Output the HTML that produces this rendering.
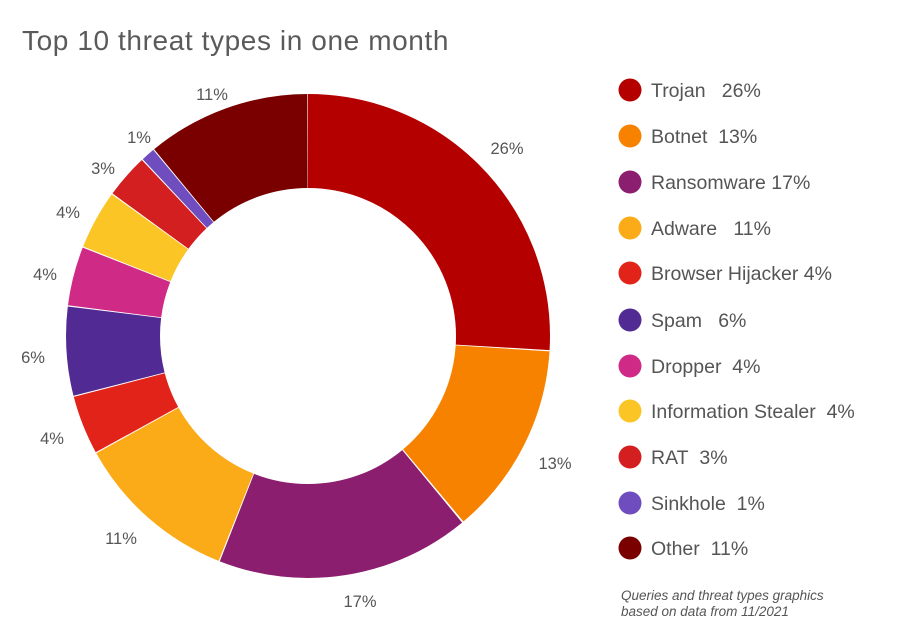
<!DOCTYPE html>
<html><head><meta charset="utf-8"><style>
body{margin:0;background:#fff;width:900px;height:631px;overflow:hidden;font-family:"Liberation Sans",sans-serif;}
</style></head><body>
<svg width="900" height="631" xmlns="http://www.w3.org/2000/svg" font-family="Liberation Sans, sans-serif">
<text x="22" y="50" font-size="28" fill="#5a5a5a" letter-spacing="0.6">Top 10 threat types in one month</text>
<g transform="rotate(-90 308 336)" fill="none" stroke-width="94">
<circle cx="308" cy="336" r="195" stroke="#B50000" stroke-dasharray="317.6 2000" stroke-dashoffset="0"/>
<circle cx="308" cy="336" r="195" stroke="#F78200" stroke-dasharray="157.8 2000" stroke-dashoffset="-318.6"/>
<circle cx="308" cy="336" r="195" stroke="#8B1E6E" stroke-dasharray="207.3 2000" stroke-dashoffset="-477.8"/>
<circle cx="308" cy="336" r="195" stroke="#FBAB18" stroke-dasharray="133.8 2000" stroke-dashoffset="-686.1"/>
<circle cx="308" cy="336" r="195" stroke="#E2231A" stroke-dasharray="48.0 2000" stroke-dashoffset="-820.9"/>
<circle cx="308" cy="336" r="195" stroke="#522A94" stroke-dasharray="72.5 2000" stroke-dashoffset="-869.9"/>
<circle cx="308" cy="336" r="195" stroke="#CF2A85" stroke-dasharray="48.0 2000" stroke-dashoffset="-943.4"/>
<circle cx="308" cy="336" r="195" stroke="#FBC525" stroke-dasharray="48.0 2000" stroke-dashoffset="-992.4"/>
<circle cx="308" cy="336" r="195" stroke="#D31F1F" stroke-dasharray="35.8 2000" stroke-dashoffset="-1041.4"/>
<circle cx="308" cy="336" r="195" stroke="#6F4DBF" stroke-dasharray="11.3 2000" stroke-dashoffset="-1078.2"/>
<circle cx="308" cy="336" r="195" stroke="#7A0000" stroke-dasharray="133.8 2000" stroke-dashoffset="-1090.4"/>
</g>
<g font-size="16.5" fill="#555" text-anchor="middle">
<text x="507" y="154">26%</text>
<text x="555" y="469">13%</text>
<text x="360" y="607">17%</text>
<text x="121" y="544">11%</text>
<text x="52" y="444">4%</text>
<text x="33" y="363">6%</text>
<text x="45" y="280">4%</text>
<text x="68" y="218">4%</text>
<text x="103" y="174">3%</text>
<text x="139" y="143">1%</text>
<text x="212" y="100">11%</text>
</g>
<g font-size="19.5" fill="#555">
<circle cx="630" cy="90" r="11.5" fill="#B50000"/><text x="651" y="97">Trojan&#160;&#160; 26%</text>
<circle cx="630" cy="136" r="11.5" fill="#F78200"/><text x="651" y="143">Botnet&#160; 13%</text>
<circle cx="630" cy="182" r="11.5" fill="#8B1E6E"/><text x="651" y="189">Ransomware 17%</text>
<circle cx="630" cy="228" r="11.5" fill="#FBAB18"/><text x="651" y="235">Adware&#160;&#160; 11%</text>
<circle cx="630" cy="273" r="11.5" fill="#E2231A"/><text x="651" y="280">Browser Hijacker 4%</text>
<circle cx="630" cy="320" r="11.5" fill="#522A94"/><text x="651" y="327">Spam&#160;&#160; 6%</text>
<circle cx="630" cy="366" r="11.5" fill="#CF2A85"/><text x="651" y="373">Dropper&#160; 4%</text>
<circle cx="630" cy="411" r="11.5" fill="#FBC525"/><text x="651" y="418">Information Stealer&#160; 4%</text>
<circle cx="630" cy="457" r="11.5" fill="#D31F1F"/><text x="651" y="464">RAT&#160; 3%</text>
<circle cx="630" cy="503" r="11.5" fill="#6F4DBF"/><text x="651" y="510">Sinkhole&#160; 1%</text>
<circle cx="630" cy="548" r="11.5" fill="#7A0000"/><text x="651" y="555">Other&#160; 11%</text>
</g>
<g font-size="13.5" fill="#555" font-style="italic">
<text x="621" y="600">Queries and threat types graphics</text>
<text x="621" y="616">based on data from 11/2021</text>
</g>
</svg>
</body></html>
